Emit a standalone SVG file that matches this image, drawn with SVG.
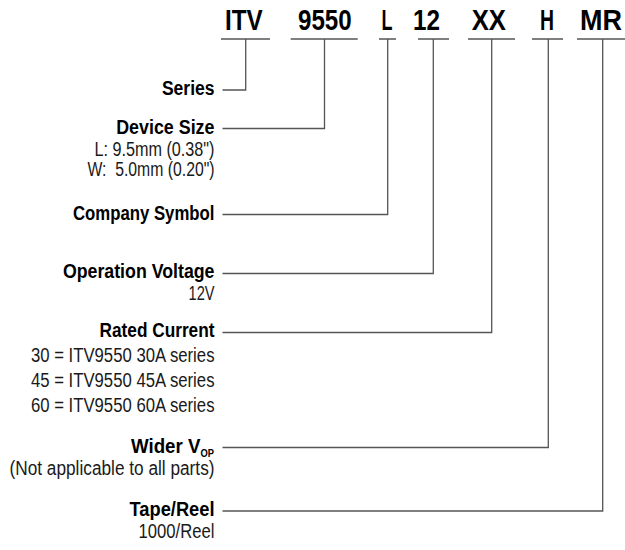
<svg xmlns="http://www.w3.org/2000/svg" width="625" height="550" viewBox="0 0 625 550">
<style>
.t{font-family:"Liberation Sans",Arial,sans-serif;font-weight:bold;font-size:29.5px;fill:#000}
.b{font-family:"Liberation Sans",Arial,sans-serif;font-weight:bold;font-size:20px;fill:#000;text-anchor:end}
.r{font-family:"Liberation Sans",Arial,sans-serif;font-size:20px;fill:#1a1a1a;text-anchor:end}
.sub{font-size:10px}
.c{fill:none;stroke:#555;stroke-width:1.3}
</style>
<rect width="625" height="550" fill="#fff"/>
<g id="code">
<text class="t" x="225" y="29.5" textLength="37.7" lengthAdjust="spacingAndGlyphs">ITV</text>
<text class="t" x="298" y="29.5" textLength="53.7" lengthAdjust="spacingAndGlyphs">9550</text>
<text class="t" x="381.5" y="29.5" textLength="11" lengthAdjust="spacingAndGlyphs">L</text>
<text class="t" x="413" y="29.5" textLength="27" lengthAdjust="spacingAndGlyphs">12</text>
<text class="t" x="471.7" y="29.5" textLength="34.3" lengthAdjust="spacingAndGlyphs">XX</text>
<text class="t" x="540" y="29.5" textLength="14" lengthAdjust="spacingAndGlyphs">H</text>
<text class="t" x="580" y="29.5" textLength="42" lengthAdjust="spacingAndGlyphs">MR</text>
</g>
<g id="connectors">
<path class="c" d="M221,39H270M245.7,39V90H222.5"/>
<path class="c" d="M290.7,39H357.7M324.5,39V128.5H222.5"/>
<path class="c" d="M379,39H396M387.7,39V214.5H222.5"/>
<path class="c" d="M418,39H449M433.3,39V273.5H222.5"/>
<path class="c" d="M468,39H515M491.7,39V332.5H222.5"/>
<path class="c" d="M532,39H563M548.3,39V447.5H222.5"/>
<path class="c" d="M577,39H625M602.7,39V511H222.5"/>
</g>
<g id="series">
<text class="b" x="214.5" y="95" textLength="52.6" lengthAdjust="spacingAndGlyphs">Series</text>
</g>
<g id="device-size">
<text class="b" x="214.5" y="134" textLength="98.3" lengthAdjust="spacingAndGlyphs">Device Size</text>
<text class="r" x="214.5" y="156" textLength="120" lengthAdjust="spacingAndGlyphs">L: 9.5mm (0.38")</text>
<text class="r" x="214.5" y="176" textLength="127" lengthAdjust="spacingAndGlyphs" xml:space="preserve">W:  5.0mm (0.20")</text>
</g>
<g id="company-symbol">
<text class="b" x="214.5" y="220" textLength="141.6" lengthAdjust="spacingAndGlyphs">Company Symbol</text>
</g>
<g id="operation-voltage">
<text class="b" x="214.5" y="278" textLength="151.6" lengthAdjust="spacingAndGlyphs">Operation Voltage</text>
<text class="r" x="214.5" y="300" textLength="26" lengthAdjust="spacingAndGlyphs">12V</text>
</g>
<g id="rated-current">
<text class="b" x="214.5" y="337" textLength="115" lengthAdjust="spacingAndGlyphs">Rated Current</text>
<text class="r" x="214.5" y="362" textLength="183.6" lengthAdjust="spacingAndGlyphs">30 = ITV9550 30A series</text>
<text class="r" x="214.5" y="387" textLength="183.6" lengthAdjust="spacingAndGlyphs">45 = ITV9550 45A series</text>
<text class="r" x="214.5" y="412" textLength="183.6" lengthAdjust="spacingAndGlyphs">60 = ITV9550 60A series</text>
</g>
<g id="wider-vop">
<text class="b" x="214" y="453" textLength="83" lengthAdjust="spacingAndGlyphs">Wider V<tspan class="sub" dy="3.5">OP</tspan></text>
<text class="r" x="214.5" y="475" textLength="205" lengthAdjust="spacingAndGlyphs">(Not applicable to all parts)</text>
</g>
<g id="tape-reel">
<text class="b" x="214.5" y="516" textLength="85" lengthAdjust="spacingAndGlyphs">Tape/Reel</text>
<text class="r" x="214.5" y="538" textLength="76" lengthAdjust="spacingAndGlyphs">1000/Reel</text>
</g>
</svg>
